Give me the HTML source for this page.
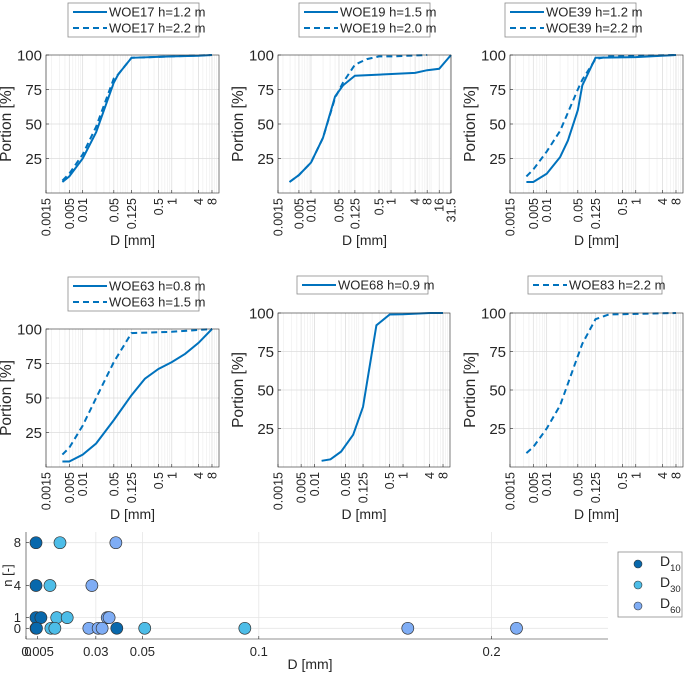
<!DOCTYPE html>
<html><head><meta charset="utf-8"><style>
body{margin:0;background:#fff;font-family:"Liberation Sans",Arial,sans-serif}
svg text{font-family:"Liberation Sans",Arial,sans-serif;fill:#262626}
</style></head><body>
<svg id="fig" width="685" height="676" viewBox="0 0 685 676" xmlns="http://www.w3.org/2000/svg"></svg>
<script>
// ---- data ----
const woe17aD=[0.0035,0.005,0.01,0.02,0.05,0.063,0.125,1,4,8];
const woe17aP=[8,12,25,44,80,86,98,99,99.5,100];
const woe17bD=[0.0035,0.005,0.01,0.02,0.05,0.063,0.125,1,8];
const woe17bP=[9,14,28,48,83,86,98,99,100];
const woe19aD=[0.0029,0.005,0.01,0.02,0.04,0.063,0.125,4,8,16,31.5];
const woe19aP=[8,13,22,40,70,78,85,87,89,90,100];
const woe19bD=[0.0029,0.005,0.01,0.02,0.04,0.063,0.125,0.25,0.5,1,8];
const woe19bP=[8,13,22,40,69,80,93,97,99,99,100];
const woe39aD=[0.0035,0.005,0.01,0.02,0.03,0.05,0.063,0.125,1,8];
const woe39aP=[8,8,14,26,38,60,78,98,98.5,100];
const woe39bD=[0.0035,0.005,0.01,0.02,0.05,0.063,0.125,0.25,8];
const woe39bP=[12,17,30,45,75,82,97,99,100];
const woe63aD=[0.0035,0.005,0.01,0.02,0.05,0.125,0.25,0.5,1,2,4,8];
const woe63aP=[4,4,9,17,34,52,64,71,76,82,90,100];
const woe63bD=[0.0035,0.005,0.01,0.02,0.05,0.125,1,8];
const woe63bP=[9,14,30,50,76,97,98,100];
const woe68D=[0.0145,0.023,0.04,0.075,0.125,0.25,0.5,1,4,8];
const woe68P=[4,5,10,21,39,92,99,99.2,100,100];
const woe83D=[0.0035,0.005,0.01,0.02,0.05,0.063,0.125,0.25,8];
const woe83P=[9,13,25,40,72,80,96,99,100];
const ticks8=["0.0015","0.005","0.01","0.05","0.125","0.5","1","4","8"];
const ticks31=["0.0015","0.005","0.01","0.05","0.125","0.5","1","4","8","16","31.5"];
const yTicks=[25,50,75,100];
// scatter
const d10X=[0.0043,0.0043,0.0043,0.0064,0.0043,0.0045,0.039];
const d10N=[8,4,1,1,0,0,0];
const d30X=[0.0146,0.0103,0.0132,0.0177,0.0107,0.0124,0.051,0.094];
const d30N=[8,4,1,1,0,0,0,0];
const d60X=[0.0386,0.0283,0.0349,0.0357,0.027,0.031,0.0327,0.164,0.2107];
const d60N=[8,4,1,1,0,0,0,0,0];
const sxTicks=[0,0.005,0.03,0.05,0.1,0.2];
const sxLabels=["0","0.005","0.03","0.05","0.1","0.2"];
const syTicks=[0,1,4,8];

const NS="http://www.w3.org/2000/svg";
const fig=document.getElementById('fig');
function mk(tag,attrs,parent){const e=document.createElementNS(NS,tag);for(const k in attrs)e.setAttribute(k,attrs[k]);(parent||fig).appendChild(e);return e;}
const BLUE="#0072BD";

function panel(cfg){
  const g=mk('g',{});
  
  
  const L=cfg.l,R=cfg.r,T=cfg.t,B=cfg.b;
  const lx0=Math.log10(0.0015),lx1=Math.log10(cfg.xmax);
  const X=v=>L+(Math.log10(v)-lx0)/(lx1-lx0)*(R-L);
  const Y=v=>B-v/100*(B-T);
  mk('rect',{x:L,y:T,width:R-L,height:B-T,fill:'#fff'},g);
  for(let e=-3;e<=2;e++)for(let k=1;k<=9;k++){const v=k*Math.pow(10,e);if(v<0.0015||v>cfg.xmax)continue;const x=X(v);mk('line',{x1:x,x2:x,y1:T,y2:B,stroke:'#ececec','stroke-width':0.6},g);}
  for(const lab of cfg.ticks){const x=X(parseFloat(lab));mk('line',{x1:x,x2:x,y1:T,y2:B,stroke:'#dcdcdc','stroke-width':0.7},g);}
  for(const v of yTicks){if(v<100)mk('line',{x1:L,x2:R,y1:Y(v),y2:Y(v),stroke:'#dcdcdc','stroke-width':0.8},g);}
  cfg.series.forEach(s=>{
    const pts=s.d.map((d,i)=>X(d).toFixed(1)+','+Y(s.p[i]).toFixed(1)).join(' ');
    const pl=mk('polyline',{points:pts,fill:'none',stroke:BLUE,'stroke-width':2,'stroke-dasharray':s.dash?'6,4':'none'},g);
    
    
  });
  mk('rect',{x:L,y:T,width:R-L,height:B-T,fill:'none',stroke:'#262626','stroke-width':0.6},g);
  for(const lab of cfg.ticks){const x=X(parseFloat(lab));
    mk('line',{x1:x,x2:x,y1:B,y2:B-3,stroke:'#262626','stroke-width':0.6},g);
    const t=mk('text',{x:0,y:0,'font-size':12.5,'text-anchor':'end',transform:`translate(${x+4.5},${B+5}) rotate(-90)`},g);t.textContent=lab;
    
    }
  for(const v of yTicks){const y=Y(v);
    mk('line',{x1:L,x2:L+3,y1:y,y2:y,stroke:'#262626','stroke-width':0.6},g);
    const t=mk('text',{x:L-4,y:y+5.5,'font-size':15,'text-anchor':'end'},g);t.textContent=v;
    
    }
  const yl=mk('text',{x:0,y:0,'font-size':15.5,'text-anchor':'middle',transform:`translate(${L-35},${(T+B)/2}) rotate(-90)`},g);yl.textContent='Portion [%]';
  
  
  const xl=mk('text',{x:(L+R)/2,y:cfg.xly,'font-size':14,'text-anchor':'middle'},g);xl.textContent='D [mm]';
  
  
  const lg=mk('g',{},g);
  
  
  const n=cfg.series.length,lh=n*16+2;
  mk('rect',{x:cfg.lgx,y:cfg.lgy,width:cfg.lgw,height:lh,fill:'#fff',stroke:'#8c8c8c','stroke-width':0.8},lg);
  cfg.series.forEach((s,i)=>{const yy=cfg.lgy+9+i*16;
    mk('line',{x1:cfg.lgx+5,x2:cfg.lgx+39,y1:yy,y2:yy,stroke:BLUE,'stroke-width':2,'stroke-dasharray':s.dash?'6,4':'none'},lg);
    const t=mk('text',{x:cfg.lgx+41,y:yy+4.5,'font-size':13},lg);t.textContent=s.label;
    
    });
}
panel({name:'panel-woe17',l:46,r:219,t:55,b:193,xmax:11.5,ticks:ticks8,xly:245,lgx:68,lgy:3,lgw:131,
  series:[{key:'woe17-1.2',d:woe17aD,p:woe17aP,label:'WOE17 h=1.2 m'},{key:'woe17-2.2',d:woe17bD,p:woe17bP,dash:1,label:'WOE17 h=2.2 m'}]});
panel({name:'panel-woe19',l:278,r:451,t:55,b:193,xmax:31.5,ticks:ticks31,xly:245,lgx:299,lgy:3,lgw:131,
  series:[{key:'woe19-1.5',d:woe19aD,p:woe19aP,label:'WOE19 h=1.5 m'},{key:'woe19-2.0',d:woe19bD,p:woe19bP,dash:1,label:'WOE19 h=2.0 m'}]});
panel({name:'panel-woe39',l:510,r:683,t:55,b:193,xmax:11.5,ticks:ticks8,xly:245,lgx:505,lgy:3,lgw:131,
  series:[{key:'woe39-1.2',d:woe39aD,p:woe39aP,label:'WOE39 h=1.2 m'},{key:'woe39-2.2',d:woe39bD,p:woe39bP,dash:1,label:'WOE39 h=2.2 m'}]});
panel({name:'panel-woe63',l:46,r:219,t:329,b:467,xmax:11.5,ticks:ticks8,xly:519,lgx:68,lgy:277,lgw:131,
  series:[{key:'woe63-0.8',d:woe63aD,p:woe63aP,label:'WOE63 h=0.8 m'},{key:'woe63-1.5',d:woe63bD,p:woe63bP,dash:1,label:'WOE63 h=1.5 m'}]});
panel({name:'panel-woe68',l:278,r:450,t:313,b:467,xmax:11.5,ticks:ticks8,xly:519,lgx:297,lgy:276,lgw:131,
  series:[{key:'woe68-0.9',d:woe68D,p:woe68P,label:'WOE68 h=0.9 m'}]});
panel({name:'panel-woe83',l:510,r:683,t:313,b:467,xmax:11.5,ticks:ticks8,xly:519,lgx:528,lgy:276,lgw:134,
  series:[{key:'woe83-2.2',d:woe83D,p:woe83P,dash:1,label:'WOE83 h=2.2 m'}]});

// ---- scatter ----
(function(){
  const g=mk('g',{});
  
  
  const L=26,R=608,T=532,B=639;
  const X=v=>L+v/0.25*(R-L), Y=v=>B-(v+1)/10*(B-T);
  for(const v of sxTicks.slice(1)){if(v<0.01)continue;mk('line',{x1:X(v),x2:X(v),y1:T,y2:B,stroke:'#e6e6e6','stroke-width':0.8},g);}
  for(const v of syTicks)mk('line',{x1:L,x2:R,y1:Y(v),y2:Y(v),stroke:'#e6e6e6','stroke-width':0.8},g);
  mk('line',{x1:L,x2:R,y1:B,y2:B,stroke:'#262626','stroke-width':0.6},g);
  mk('line',{x1:L,x2:L,y1:T,y2:B,stroke:'#262626','stroke-width':0.6},g);
  sxTicks.forEach((v,i)=>{mk('line',{x1:X(v),x2:X(v),y1:B,y2:B-3,stroke:'#262626','stroke-width':0.6},g);
    const t=mk('text',{x:X(v)+(i==0?2:0),y:B+17,'font-size':13,'text-anchor':'middle'},g);t.textContent=sxLabels[i];
    
    });
  for(const v of syTicks){mk('line',{x1:L,x2:L+3,y1:Y(v),y2:Y(v),stroke:'#262626','stroke-width':0.6},g);
    const t=mk('text',{x:L-5,y:Y(v)+4.5,'font-size':13,'text-anchor':'end'},g);t.textContent=v;
    
    }
  const yl=mk('text',{x:0,y:0,'font-size':13,'text-anchor':'middle',transform:`translate(12,${(T+B)/2-10}) rotate(-90)`},g);yl.textContent='n [-]';
  
  
  const xl=mk('text',{x:310,y:669,'font-size':14,'text-anchor':'middle'},g);xl.textContent='D [mm]';
  
  
  const sets=[[d10X,d10N,'#0868ac','d10'],[d30X,d30N,'#4dbde8','d30'],[d60X,d60N,'#7fadf5','d60']];
  sets.forEach(([xs,ns,c,k])=>xs.forEach((x,i)=>{const m=mk('circle',{cx:X(x),cy:Y(ns[i]),r:6,fill:c,stroke:'#333','stroke-width':0.7},g);
    
    }));
  const lg=mk('g',{},g);
  
  
  mk('rect',{x:618,y:552,width:64,height:65,fill:'#fff',stroke:'#8c8c8c','stroke-width':0.8},lg);
  sets.forEach(([xs,ns,c,k],i)=>{const yy=564+i*21;
    mk('circle',{cx:638,cy:yy,r:4,fill:c,stroke:'#333','stroke-width':0.6},lg);
    const t=mk('text',{x:660,y:yy+2,'font-size':14},lg);
    
    
    t.textContent='D';const s=mk('tspan',{dy:5,'font-size':9.5},t);s.textContent=['10','30','60'][i];});
})();
</script>
</body></html>
